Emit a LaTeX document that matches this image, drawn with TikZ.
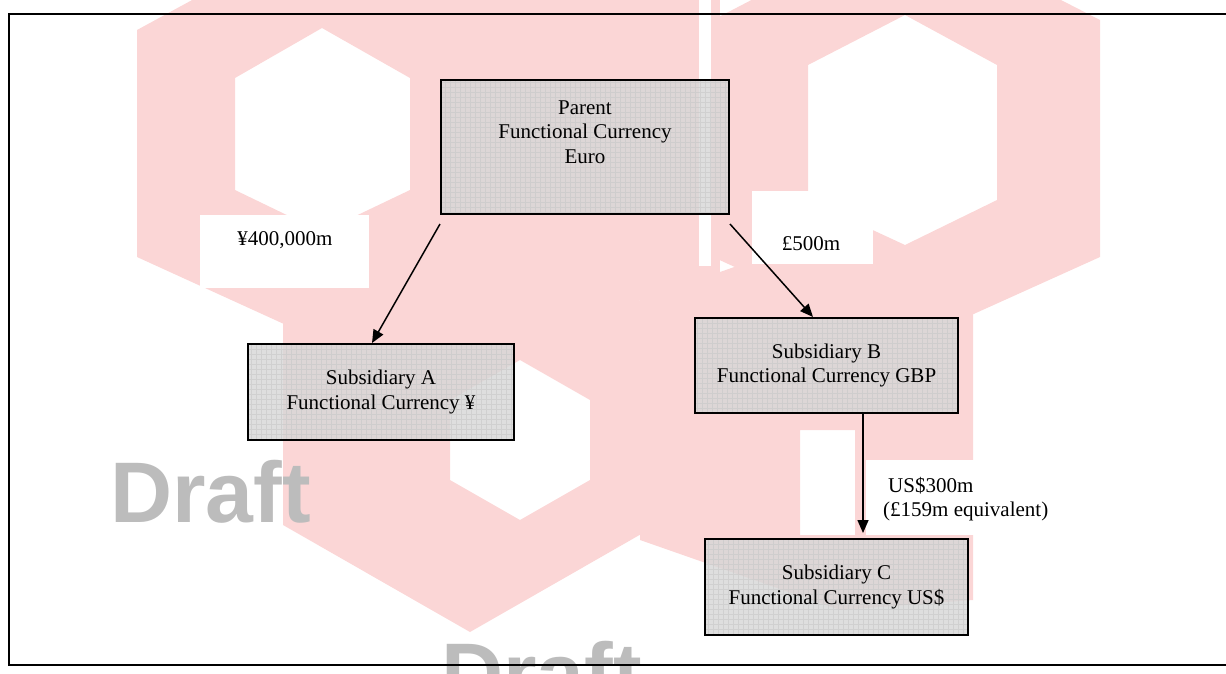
\documentclass[tikz,border=0pt]{standalone}
\usepackage{fontspec}
\setmainfont{Liberation Serif}
\newfontfamily\draftfont{Liberation Sans}
\usetikzlibrary{arrows.meta}
\definecolor{wm}{RGB}{251,214,214}
\definecolor{boxgray}{RGB}{214,214,214}
\definecolor{draftgray}{RGB}{188,188,188}
\begin{document}
\begin{tikzpicture}[x=1pt,y=-1pt,
  entity/.style={draw=black, line width=2pt, fill=boxgray, fill opacity=0.8, text opacity=1, inner sep=0pt, align=center, font=\fontsize{21}{24.5}\selectfont,
    path picture={\draw[black!22, line width=0.35pt, draw opacity=0.6] (path picture bounding box.south west) grid[step=5pt] (path picture bounding box.north east);}},
  lblbox/.style={fill=white, draw=none, inner sep=0pt},
  lbltxt/.style={inner sep=0pt, align=left, font=\fontsize{21}{24.5}\selectfont},
  drafttxt/.style={inner sep=0pt, text=draftgray, font=\draftfont\bfseries\fontsize{86}{86}\selectfont},
  arr/.style={line width=1.5pt, -{Triangle[length=13pt,width=11pt]}}]
\useasboundingbox (0,0) rectangle (1226,673);
\clip (0,0) rectangle (1226,673);
% watermark
\fill[wm] (430,0) rectangle (720,300);
\fill[wm,even odd rule] (330,-75) -- (520,30) -- (520,250) -- (330,345) -- (137,257) -- (137,30) -- cycle
  (322,28) -- (410,78) -- (410,190) -- (322,232) -- (235,190) -- (235,78) -- cycle;
\fill[wm,even odd rule] (905,-80) -- (1100,20) -- (1100,257) -- (905,345) -- (713,257) -- (713,20) -- cycle
  (905,15) -- (997,65) -- (997,200) -- (905,245) -- (808,200) -- (808,65) -- cycle;
\fill[wm,even odd rule] (470,205) -- (657,310) -- (657,525) -- (470,632) -- (283,525) -- (283,310) -- cycle
  (520,360) -- (590,400) -- (590,480) -- (520,520) -- (450,480) -- (450,400) -- cycle;
\fill[wm,even odd rule] (840,230) -- (973,300) -- (973,600) -- (840,610) -- (640,540) -- (640,300) -- cycle
  (800,430) -- (855,430) -- (855,535) -- (800,535) -- cycle;
\fill[white] (699,0) rectangle (711,266);
% draft watermark text
\node[drafttxt, anchor=base west] (D1) at (110,522) {Draft};
\node[drafttxt, anchor=base west] (D2) at (441,703) {Draft};
% frame
\draw[line width=2pt] (1226,14) -- (9,14) -- (9,665) -- (1226,665);
% label boxes
\node[lblbox, minimum width=169pt, minimum height=73pt] (LAbox) at (284.5,251.5) {};
\node[lblbox, minimum width=121pt, minimum height=73pt] (LBbox) at (812.5,227.5) {};
\node[lblbox, minimum width=194pt, minimum height=75pt] (LCbox) at (963,497.5) {};
\node[lbltxt] (LA) at (285,240) {¥400,000m};
\node[lbltxt] (LB) at (811,244) {£500m};
\node[lbltxt, anchor=west] (LC1) at (888,486) {US\$300m};
\node[lbltxt, anchor=west] (LC2) at (883,511) {(£159m equivalent)};
% entity boxes
\node[entity, minimum width=288pt, minimum height=134pt] (P) at (585,147) {};
\node[inner sep=0pt, align=center, font=\fontsize{21}{24.5}\selectfont] (Ptxt) at (585,132) {Parent\\Functional Currency\\Euro};
\node[entity, minimum width=266pt, minimum height=96pt] (A) at (381,392) {Subsidiary A\\Functional Currency ¥};
\node[entity, minimum width=263pt, minimum height=95pt] (B) at (826.5,365.5) {Subsidiary B\\Functional Currency GBP};
\node[entity, minimum width=263pt, minimum height=96pt] (C) at (836.5,587) {Subsidiary C\\Functional Currency US\$};
% connectors
\draw[arr] ([yshift=-9pt]P.south west) -- ([xshift=-9pt]A.north);
\draw[arr] ([yshift=-9pt]P.south east) -- ([xshift=-13.5pt]B.north);
\draw[arr] ([xshift=36.5pt]B.south) -- ([xshift=36.5pt,yshift=5pt]B.south |- C.north);
\end{tikzpicture}
\end{document}
